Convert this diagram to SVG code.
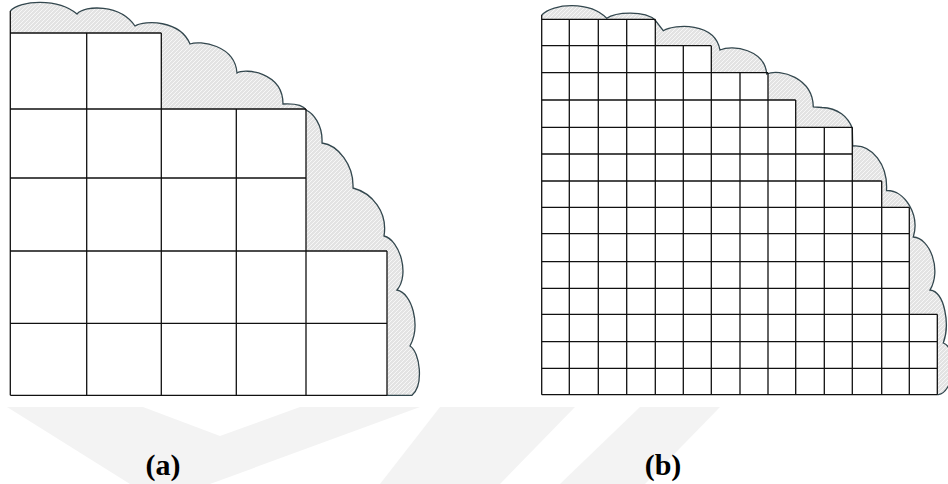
<svg xmlns="http://www.w3.org/2000/svg" width="948" height="484" viewBox="0 0 948 484">
<defs>
<pattern id="hatch" patternUnits="userSpaceOnUse" width="4" height="4">
<rect width="4" height="4" fill="#e3e3e3"/>
<path d="M-1,1 L1,-1 M0,4 L4,0 M3,5 L5,3" stroke="#f7f7f7" stroke-width="1"/>
</pattern>
</defs>
<style>
.grid{fill:none;stroke:#111;stroke-width:1.3}
.edge{fill:none;stroke:#33474e;stroke-width:1.3}
.wm{fill:#f3f3f3}
.lbl{font-family:"Liberation Serif","Times New Roman",serif;font-weight:bold;font-size:30px;fill:#000;text-anchor:middle}
</style>
<rect width="948" height="484" fill="#fff"/>
<g id="watermark">
<polygon class="wm" points="7,407 143,407 220,436 300,407 420,407 210,484 130,484"/>
<polygon class="wm" points="440,407 480,407 480,484 380,484"/>
<polygon class="wm" points="480,407 575,407 500,484 480,484"/>
<polygon class="wm" points="640,407 720,407 645,484 560,484"/>
</g>
<rect x="0" y="0" width="435" height="406" fill="#fff"/>
<rect x="535" y="0" width="413" height="406" fill="#fff"/>
<g id="panel-a">
<path fill="url(#hatch)" d="M10.3,11 C20,0 58,-2 77,14 C85,5 120,4 135,26 C145,20 180,20 190,44 C200,40 235,45 237,73 C245,68 283,72 283,104 Q302,103 306,110 C313,113 323,125 322,143 C338,145 354,165 353,188 C372,193 388,212 384,236 C400,240 410,275 397,290 C412,293 421,325 410,346 C420,352 424,385 412,395.3 L387,395.3 L387,251 L306,251 L306,109 L161.3,109 L161.3,33 L10.3,33 Z"/>
<path class="edge" d="M10.3,11 C20,0 58,-2 77,14 C85,5 120,4 135,26 C145,20 180,20 190,44 C200,40 235,45 237,73 C245,68 283,72 283,104 Q302,103 306,110 C313,113 323,125 322,143 C338,145 354,165 353,188 C372,193 388,212 384,236 C400,240 410,275 397,290 C412,293 421,325 410,346 C420,352 424,385 412,395.3 L387,395.3"/>
<path class="grid" d="M10.3,33 H161.3 M10.3,109 H306 M10.3,178 H306 M10.3,251 H387 M10.3,323.3 H387 M10.3,395.3 H387 M10.3,11 V395.3 M86.7,33 V395.3 M161.3,33 V395.3 M236.3,109 V395.3 M306,109 V395.3 M387,251 V395.3"/>
</g>
<g id="panel-b">
<path fill="url(#hatch)" d="M541.7,15 C553,3 590,1 606.7,18.3 C615,12 645,10 655,20 L663.3,30.7 C675,24 715,22 720,50 C733,44 765,50 766.7,74 C780,68 813,78 813.3,107 L822,107.5 C838,108 848,117 852.3,128.3 L852.7,146 C872,144 888,165 886.5,190.5 C905,190 920,215 913.3,237 C930,238 942,270 930,290 C945,292 950,325 943.3,343 C958,348 955,392 938.3,394.7 L937.3,394.7 L937.3,314.3 L909.3,314.3 L909.3,207.3 L881.7,207.3 L881.7,181 L852.3,181 L852.3,127.3 L795.7,127.3 L795.7,100 L768,100 L768,72.7 L711.3,72.7 L711.3,45.7 L655.3,45.7 L655.3,19.3 L541.7,19.3 Z"/>
<path class="edge" d="M541.7,15 C553,3 590,1 606.7,18.3 C615,12 645,10 655,20 L663.3,30.7 C675,24 715,22 720,50 C733,44 765,50 766.7,74 C780,68 813,78 813.3,107 L822,107.5 C838,108 848,117 852.3,128.3 L852.7,146 C872,144 888,165 886.5,190.5 C905,190 920,215 913.3,237 C930,238 942,270 930,290 C945,292 950,325 943.3,343 C958,348 955,392 938.3,394.7 L937.3,394.7"/>
<path class="grid" d="M541.7,19.3 H655.3 M541.7,45.7 H711.3 M541.7,72.7 H768 M541.7,100 H795.7 M541.7,127.3 H852.3 M541.7,154 H852.3 M541.7,181 H881.7 M541.7,207.3 H909.3 M541.7,233.7 H909.3 M541.7,261.7 H909.3 M541.7,288.3 H909.3 M541.7,314.3 H937.3 M541.7,341.7 H937.3 M541.7,368.3 H937.3 M541.7,394.7 H937.3 M541.7,15 V394.7 M569.3,19.3 V394.7 M598.3,19.3 V394.7 M626.7,19.3 V394.7 M655.3,19.3 V394.7 M683.3,45.7 V394.7 M711.3,45.7 V394.7 M740,72.7 V394.7 M768,72.7 V394.7 M795.7,100 V394.7 M824.3,127.3 V394.7 M852.3,127.3 V394.7 M881.7,181 V394.7 M909.3,207.3 V394.7 M937.3,314.3 V394.7"/>
</g>
<g id="labels">
<text class="lbl" x="163" y="475">(a)</text>
<text class="lbl" x="663" y="475">(b)</text>
</g>
</svg>
